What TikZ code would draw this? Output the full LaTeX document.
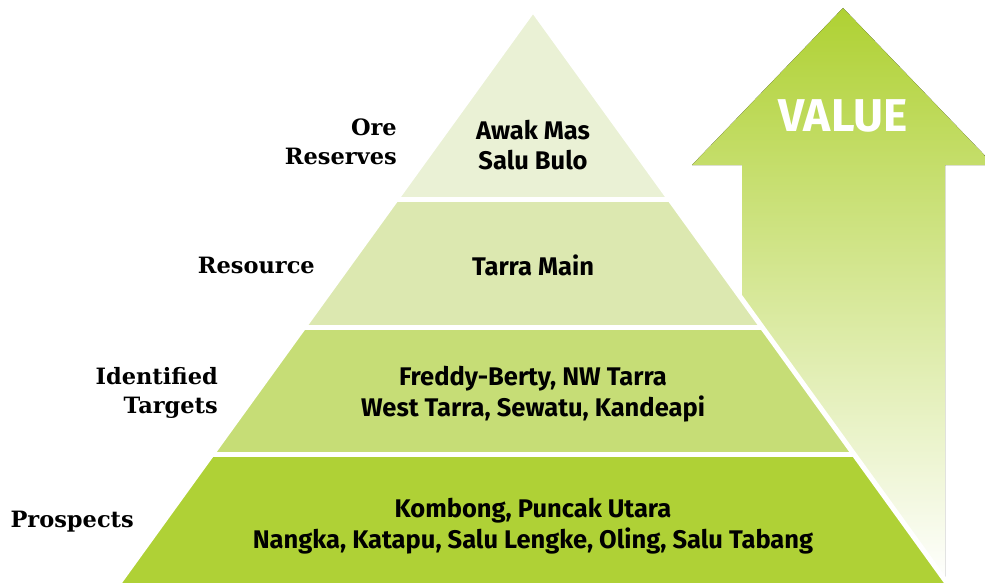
\documentclass[tikz,border=0pt]{standalone}
\usepackage{fontspec}
\usepackage{tikz}
\newfontfamily\dinfont{Fira Sans}
\newfontfamily\serifbold{DejaVu Serif}
\definecolor{TierOne}{HTML}{EAF1D5}
\definecolor{TierTwo}{HTML}{DCE8B0}
\definecolor{TierThree}{HTML}{C6DD76}
\definecolor{TierFour}{HTML}{AFD136}
\definecolor{ArrowGreen}{HTML}{AFD133}

\begin{document}
\begin{tikzpicture}[x=1pt,y=-1pt,
  sitetext/.style={align=center,font=\dinfont\bfseries\fontsize{25.5}{30.5}\selectfont},
  tiertext/.style={align=right,anchor=east,inner sep=0pt,font=\serifbold\bfseries\fontsize{22.5}{29}\selectfont}]
\useasboundingbox (0,0) rectangle (985,583);
%
\fill[top color=ArrowGreen, bottom color=white] (843,8) -- (994,165) -- (945,165) -- (945,583)
  -- (742,583) -- (742,165) -- (692,165) -- cycle;
\node[text=white, font=\dinfont\bfseries\fontsize{46}{46}\selectfont] (value) at (843,116) {VALUE};
%
\coordinate (apex) at (533,10);
\coordinate (bl) at (106.7,600);
\coordinate (br) at (959.3,600);
\begin{scope}
\clip (apex) -- (bl) -- (br) -- cycle;
\fill[TierOne] (0,0) rectangle (985,199);
\fill[TierTwo] (0,199) rectangle (985,327.5);
\fill[TierThree] (0,327.5) rectangle (985,454.5);
\fill[TierFour] (0,454.5) rectangle (985,600);
\draw[white, line width=5pt] (0,199) -- (985,199);
\draw[white, line width=5pt] (0,327.5) -- (985,327.5);
\draw[white, line width=5pt] (0,454.5) -- (985,454.5);
\end{scope}
\draw[white, line width=5pt] (apex) -- (bl) -- (br) -- cycle;
%
\node[sitetext] (awak) at (533,145) {Awak Mas\\Salu Bulo};
\node[sitetext] (tarra) at (533,265) {Tarra Main};
\node[sitetext] (freddy) at (533,394) {Freddy-Berty, NW Tarra\\West Tarra, Sewatu, Kandeapi};
\node[sitetext] (kombong) at (533,526) {Kombong, Puncak Utara\\Nangka, Katapu, Salu Lengke, Oling, Salu Tabang};
%
\node[tiertext] (reserves) at (397,142) {Ore\\Reserves};
\node[tiertext] (resource) at (315,265) {Resource};
\node[tiertext] (targets) at (218,393) {Identified\\Targets};
\node[tiertext] (prospects) at (134,522) {Prospects};
\end{tikzpicture}
\end{document}
